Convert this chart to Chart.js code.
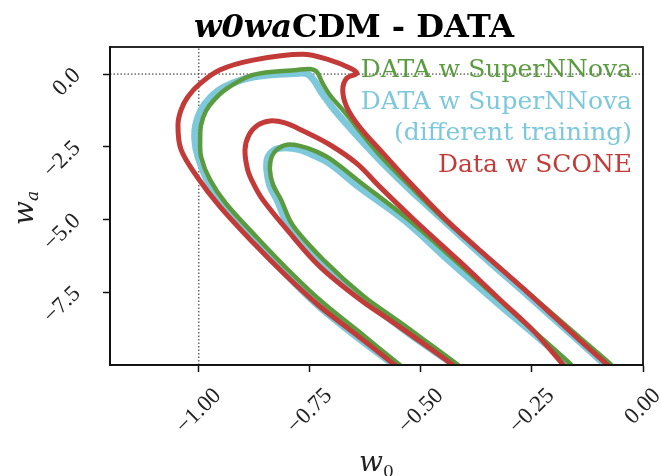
<!DOCTYPE html>
<html>
<head>
<meta charset="utf-8">
<script src="https://cdn.jsdelivr.net/npm/chart.js@4.4.1/dist/chart.umd.min.js"></script>
<style>
  html, body { margin: 0; padding: 0; background: #fff; }
  canvas { display: block; }
</style>
</head>
<body>
<canvas id="chart" width="661" height="476"></canvas>
<script>
// ticks
const xTicks = [-1.0, -0.75, -0.5, -0.25, 0.0];
const xTickLabels = ["−1.00", "−0.75", "−0.50", "−0.25", "0.00"];
const yTicks = [0.0, -2.5, -5.0, -7.5];
const yTickLabels = ["0.0", "−2.5", "−5.0", "−7.5"];

// reference lines (w0 = -1, wa = 0)
const refW0 = -1.0;
const refWa = 0.0;

const legendLines = [
  ["DATA w SuperNNova", 0],
  ["DATA w SuperNNova", 1],
  ["(different training)", 1],
  ["Data w SCONE", 2]
];
const colors = ["#5b9b3f", "#7ec8dc", "#c23b38"];

// SuperNNova contours (95% outer, 68% inner)
const snnOuterW0 = [-0.521, -0.550, -0.644, -0.719, -0.793, -0.867, -0.939, -0.975, -0.995, -0.997, -0.995, -0.984, -0.964, -0.935, -0.878, -0.779, -0.750, -0.734, -0.723, -0.705, -0.676, -0.597, -0.521, -0.449, -0.345, -0.249, -0.136, -0.073, -0.051];
const snnOuterWa = [-10.31, -9.97, -8.80, -7.88, -6.82, -5.65, -4.45, -3.63, -2.84, -2.26, -1.75, -1.27, -0.86, -0.48, -0.03, 0.14, 0.17, 0.07, -0.27, -0.72, -1.23, -2.71, -3.90, -4.97, -6.37, -7.64, -9.14, -9.97, -10.31];
const snnInnerW0 = [-0.390, -0.419, -0.498, -0.554, -0.629, -0.716, -0.788, -0.815, -0.833, -0.840, -0.836, -0.822, -0.802, -0.773, -0.739, -0.705, -0.638, -0.528, -0.426, -0.320, -0.233, -0.163, -0.143];
const snnInnerWa = [-10.31, -9.97, -9.08, -8.46, -7.64, -6.44, -5.21, -4.32, -3.80, -3.29, -2.84, -2.57, -2.43, -2.47, -2.64, -2.91, -3.70, -5.00, -6.37, -7.81, -9.01, -9.97, -10.31];

// SuperNNova, different training
const snn2OuterW0 = [-0.534, -0.563, -0.658, -0.732, -0.804, -0.878, -0.948, -0.982, -1.002, -1.009, -1.007, -0.995, -0.975, -0.944, -0.878, -0.773, -0.755, -0.741, -0.723, -0.689, -0.608, -0.534, -0.453, -0.352, -0.260, -0.147, -0.087, -0.066];
const snn2OuterWa = [-10.31, -9.97, -8.87, -7.95, -6.88, -5.72, -4.49, -3.63, -2.84, -2.26, -1.75, -1.23, -0.82, -0.45, -0.10, 0.03, 0.00, -0.21, -0.65, -1.34, -2.71, -3.84, -4.97, -6.37, -7.60, -9.14, -9.97, -10.31];
const snn2InnerW0 = [-0.399, -0.428, -0.507, -0.561, -0.633, -0.723, -0.795, -0.824, -0.840, -0.847, -0.845, -0.829, -0.806, -0.773, -0.739, -0.705, -0.638, -0.537, -0.435, -0.327, -0.237, -0.168, -0.147];
const snn2InnerWa = [-10.31, -9.97, -9.14, -8.53, -7.71, -6.54, -5.31, -4.32, -3.84, -3.29, -2.88, -2.60, -2.53, -2.60, -2.81, -3.08, -3.90, -5.03, -6.44, -7.88, -9.04, -9.97, -10.31];

// SCONE
const sconeOuterW0 = [-0.532, -0.561, -0.653, -0.728, -0.802, -0.878, -0.953, -1.004, -1.040, -1.047, -1.040, -1.025, -0.998, -0.953, -0.878, -0.766, -0.705, -0.660, -0.644, -0.667, -0.676, -0.667, -0.638, -0.586, -0.525, -0.442, -0.339, -0.255, -0.143, -0.082, -0.057];
const sconeOuterWa = [-10.31, -9.97, -8.87, -7.98, -6.95, -5.79, -4.55, -3.53, -2.60, -1.75, -1.23, -0.79, -0.34, 0.14, 0.48, 0.68, 0.48, 0.21, 0.03, -0.14, -0.55, -1.13, -1.82, -2.71, -3.73, -5.03, -6.44, -7.57, -9.14, -9.97, -10.31];
const sconeInnerW0 = [-0.406, -0.431, -0.509, -0.563, -0.638, -0.728, -0.802, -0.856, -0.876, -0.890, -0.896, -0.887, -0.867, -0.840, -0.806, -0.766, -0.705, -0.644, -0.593, -0.516, -0.413, -0.323, -0.244, -0.181, -0.161];
const sconeInnerWa = [-10.31, -9.97, -9.11, -8.53, -7.74, -6.61, -5.34, -4.32, -3.80, -3.29, -2.60, -2.09, -1.75, -1.61, -1.68, -1.95, -2.43, -3.08, -3.87, -5.00, -6.44, -7.74, -8.87, -9.97, -10.31];

const X_MIN = -1.2, X_MAX = 0.0, Y_MIN = -10.0, Y_MAX = 0.93;

const pts = (xs, ys) => xs.map((x, i) => ({ x: x, y: ys[i] }));

function contour(xs, ys, color, width) {
  return {
    data: pts(xs, ys),
    showLine: true,
    borderColor: color,
    borderWidth: width,
    pointRadius: 0,
    tension: 0.35,
    clip: 0,
    borderJoinStyle: "round",
    borderCapStyle: "round"
  };
}

function dotted(data) {
  return {
    data: data,
    showLine: true,
    borderColor: "#222",
    borderWidth: 1,
    borderDash: [1.5, 2],
    pointRadius: 0,
    clip: 0
  };
}

const serif = '"DejaVu Serif", serif';
const tickFont = '23px "Liberation Serif", serif';

const decor = {
  id: "decor",
  afterDraw(chart) {
    const { ctx, chartArea: a, scales: { x, y } } = chart;
    ctx.save();

    // box
    ctx.strokeStyle = "#111";
    ctx.lineWidth = 1.8;
    ctx.strokeRect(a.left, a.top, a.right - a.left, a.bottom - a.top);

    // x tick labels, rotated 45
    ctx.fillStyle = "#222";
    ctx.font = tickFont;
    ctx.textAlign = "center";
    ctx.textBaseline = "middle";
    xTicks.forEach((v, i) => {
      const w = ctx.measureText(xTickLabels[i]).width;
      const half = (w + 15) * 0.7071 / 2;
      ctx.save();
      ctx.translate(x.getPixelForValue(v), a.bottom + 22 + half);
      ctx.rotate(-Math.PI / 4);
      ctx.fillText(xTickLabels[i], 0, 0);
      ctx.restore();
    });

    // y tick labels, rotated 45
    ctx.textAlign = "right";
    yTicks.forEach((v, i) => {
      ctx.save();
      ctx.translate(a.left - 33, y.getPixelForValue(v) - 2);
      ctx.rotate(-Math.PI / 4);
      ctx.fillText(yTickLabels[i], 0, 0);
      ctx.restore();
    });

    // axis titles
    ctx.textBaseline = "alphabetic";
    ctx.textAlign = "left";
    ctx.font = "italic 28px " + serif;
    const ww = ctx.measureText("w").width;
    ctx.font = "17px " + serif;
    const w0w = ctx.measureText("0").width;
    let sx = (a.left + a.right) / 2 - (ww + w0w) / 2;
    ctx.font = "italic 28px " + serif;
    ctx.fillText("w", sx, 471);
    ctx.font = "17px " + serif;
    ctx.fillText("0", sx + ww, 477);

    ctx.save();
    ctx.translate(33, 208);
    ctx.rotate(-Math.PI / 2);
    ctx.font = "italic 17px " + serif;
    const waw = ctx.measureText("a").width;
    ctx.font = "italic 28px " + serif;
    ctx.fillText("w", -(ww + waw) / 2, 0);
    ctx.font = "italic 17px " + serif;
    ctx.fillText("a", -(ww + waw) / 2 + ww, 5);
    ctx.restore();

    // title
    ctx.fillStyle = "#000";
    ctx.font = "italic bold 32px " + serif;
    const t1 = "w0wa";
    const t1w = ctx.measureText(t1).width;
    ctx.font = "bold 32px " + serif;
    const t2 = "CDM - DATA";
    const t2w = ctx.measureText(t2).width;
    const tx = 354 - (t1w + t2w) / 2;
    ctx.font = "italic bold 32px " + serif;
    ctx.fillText(t1, tx, 37);
    ctx.font = "bold 32px " + serif;
    ctx.fillText(t2, tx + t1w, 37);

    // legend (text only)
    ctx.font = "25px " + serif;
    ctx.textAlign = "right";
    legendLines.forEach((l, i) => {
      ctx.fillStyle = colors[l[1]];
      ctx.fillText(l[0], a.right - 11, 77 + i * 31.7);
    });

    ctx.restore();
  }
};

new Chart(document.getElementById("chart"), {
  type: "scatter",
  data: {
    datasets: [
      contour(sconeOuterW0, sconeOuterWa, colors[2], 5),
      contour(sconeInnerW0, sconeInnerWa, colors[2], 5),
      contour(snnOuterW0, snnOuterWa, colors[0], 4.5),
      contour(snnInnerW0, snnInnerWa, colors[0], 4.5),
      contour(snn2OuterW0, snn2OuterWa, colors[1], 7),
      contour(snn2InnerW0, snn2InnerWa, colors[1], 7),
      dotted([{ x: refW0, y: Y_MIN }, { x: refW0, y: Y_MAX }]),
      dotted([{ x: X_MIN, y: refWa }, { x: X_MAX, y: refWa }])
    ]
  },
  options: {
    responsive: false,
    animation: false,
    devicePixelRatio: 1,
    layout: { padding: { top: 47, right: 18, left: 0, bottom: 0 } },
    plugins: {
      legend: { display: false },
      tooltip: { enabled: false },
      title: { display: false }
    },
    scales: {
      x: {
        type: "linear",
        min: X_MIN,
        max: X_MAX,
        afterBuildTicks: (s) => { s.ticks = xTicks.map((v) => ({ value: v })); },
        afterFit: (s) => { s.height = 111; },
        ticks: { display: false },
        grid: { drawOnChartArea: false, drawTicks: true, tickLength: 7, tickColor: "#111", tickWidth: 1.5 },
        border: { display: true, color: "#111", width: 1.8 }
      },
      y: {
        type: "linear",
        min: Y_MIN,
        max: Y_MAX,
        afterBuildTicks: (s) => { s.ticks = yTicks.map((v) => ({ value: v })); },
        afterFit: (s) => { s.width = 110; },
        ticks: { display: false },
        grid: { drawOnChartArea: false, drawTicks: true, tickLength: 7, tickColor: "#111", tickWidth: 1.5 },
        border: { display: true, color: "#111", width: 1.8 }
      }
    }
  },
  plugins: [decor]
});
</script>
</body>
</html>
